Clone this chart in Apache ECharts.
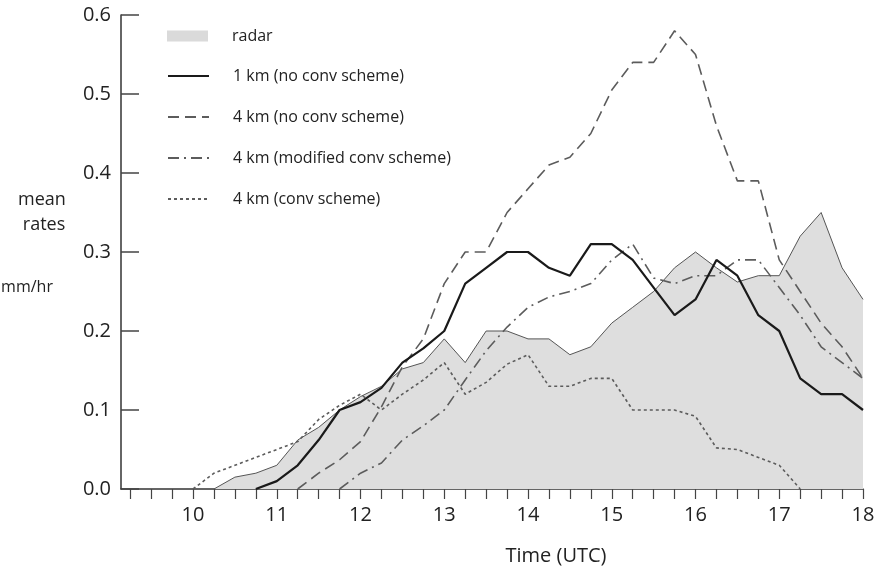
<!DOCTYPE html>
<html><head><meta charset="utf-8">
<script src="https://cdn.jsdelivr.net/npm/echarts@6/dist/echarts.min.js"></script>
<style>html,body{margin:0;padding:0;background:#fff}#c{width:878px;height:570px}</style>
</head><body><div id="c"></div>
<script>
// Time (UTC), 15-minute steps
const TIMES = [10,10.25,10.5,10.75,11,11.25,11.5,11.75,12,12.25,12.5,12.75,13,13.25,13.5,13.75,14,14.25,14.5,14.75,15,15.25,15.5,15.75,16,16.25,16.5,16.75,17,17.25,17.5,17.75,18];
// mean rates, mm/hr (null = not plotted)
const RADAR = [null,0,0.015,0.02,0.03,0.062,0.078,0.10,0.117,0.13,0.152,0.16,0.19,0.16,0.20,0.20,0.19,0.19,0.17,0.18,0.21,0.23,0.25,0.28,0.30,0.28,0.262,0.27,0.27,0.32,0.35,0.28,0.24];
const KM1_NOCONV = [null,null,null,0,0.01,0.03,0.062,0.10,0.11,0.128,0.16,0.178,0.20,0.26,0.28,0.30,0.30,0.28,0.27,0.31,0.31,0.29,0.255,0.22,0.24,0.29,0.27,0.22,0.20,0.14,0.12,0.12,0.10];
const KM4_NOCONV = [null,null,null,null,null,0,0.02,0.037,0.06,0.104,0.155,0.19,0.26,0.30,0.30,0.35,0.38,0.41,0.42,0.45,0.505,0.54,0.54,0.58,0.55,0.46,0.39,0.39,0.29,0.25,0.21,0.18,0.14];
const KM4_MODCONV = [null,null,null,null,null,null,null,0,0.02,0.033,0.062,0.08,0.10,0.138,0.175,0.205,0.23,0.243,0.25,0.26,0.29,0.31,0.267,0.26,0.27,0.27,0.29,0.29,0.255,0.22,0.18,0.16,0.14];
const KM4_CONV = [0,0.02,0.03,0.04,0.05,0.06,0.088,0.106,0.12,0.10,0.12,0.138,0.16,0.12,0.135,0.158,0.17,0.13,0.13,0.14,0.14,0.10,0.10,0.10,0.092,0.052,0.05,0.04,0.03,0,null,null,null];
// axis ticks / labels
const HOUR_LABELS = [10,11,12,13,14,15,16,17,18];
const X_TICKS = [9.25,9.5,9.75,10,10.25,10.5,10.75,11,11.25,11.5,11.75,12,12.25,12.5,12.75,13,13.25,13.5,13.75,14,14.25,14.5,14.75,15,15.25,15.5,15.75,16,16.25,16.5,16.75,17,17.25,17.5,17.75,18];
const NAMES = ['radar','1 km (no conv scheme)','4 km (no conv scheme)','4 km (modified conv scheme)','4 km (conv scheme)'];

const pairs = arr => TIMES.map((t,i)=>[t, arr[i]]);
const FONT = '"Open Sans", sans-serif';
const txt = '#222';
const legendText = {fontFamily:FONT, fontSize:16, color:txt, lineHeight:16, padding:[0,0,0,19]};

const chart = echarts.init(document.getElementById('c'), null, {renderer:'canvas'});
chart.setOption({
  animation:false,
  backgroundColor:'#fff',
  grid:{left:121, right:15, top:15, bottom:81, containLabel:false},
  xAxis:{
    type:'value', min:9.14, max:18,
    axisLine:{show:true, lineStyle:{color:'#333', width:1.5}},
    axisTick:{show:true, inside:false, length:10, customValues:X_TICKS, lineStyle:{color:'#444', width:1.2}},
    axisLabel:{show:true, customValues:HOUR_LABELS, margin:16, fontFamily:FONT, fontSize:20, color:txt, formatter:v=>String(Math.round(v))},
    splitLine:{show:false}
  },
  yAxis:{
    type:'value', min:0, max:0.6, interval:0.1,
    axisLine:{show:true, lineStyle:{color:'#333', width:1.5}},
    axisTick:{show:true, inside:true, length:18, lineStyle:{color:'#444', width:1.5}},
    axisLabel:{margin:10, fontFamily:FONT, fontSize:20, color:txt, formatter:v=>v.toFixed(1)},
    splitLine:{show:false}
  },
  legend:[
    {data:[{name:NAMES[0], icon:'rect', itemStyle:{color:'#dadada', borderWidth:0}}],
     left:167, top:28, itemWidth:41, itemHeight:11, padding:0, textStyle:legendText},
    {data:NAMES.slice(1), orient:'vertical', left:167, top:68, itemWidth:41, itemHeight:12, itemGap:25, padding:0,
     itemStyle:{opacity:0}, textStyle:legendText}
  ],
  graphic:[
    {type:'text', style:{text:'mean', x:42, y:200, fontFamily:FONT, fontSize:18, fill:txt, align:'center', verticalAlign:'middle'}},
    {type:'text', style:{text:'rates', x:44, y:225, fontFamily:FONT, fontSize:18, fill:txt, align:'center', verticalAlign:'middle'}},
    {type:'text', style:{text:'mm/hr', x:27, y:287, fontFamily:FONT, fontSize:16, fill:txt, align:'center', verticalAlign:'middle'}},
    {type:'text', style:{text:'Time (UTC)', x:556, y:556, fontFamily:FONT, fontSize:20, fill:txt, align:'center', verticalAlign:'middle'}}
  ],
  series:[
    {name:NAMES[0], type:'line', data:pairs(RADAR), symbol:'none', z:1,
     lineStyle:{color:'#555', width:1}, itemStyle:{color:'#dadada'},
     areaStyle:{color:'#dedede', opacity:1}},
    {name:NAMES[1], type:'line', data:pairs(KM1_NOCONV), symbol:'none', z:5,
     itemStyle:{color:'#1a1a1a'}, lineStyle:{color:'#1a1a1a', width:2.2}},
    {name:NAMES[2], type:'line', data:pairs(KM4_NOCONV), symbol:'none', z:4,
     itemStyle:{color:'#5c5c5c'}, lineStyle:{color:'#5c5c5c', width:1.6, type:[11,6]}},
    {name:NAMES[3], type:'line', data:pairs(KM4_MODCONV), symbol:'none', z:4,
     itemStyle:{color:'#5c5c5c'}, lineStyle:{color:'#5c5c5c', width:1.6, type:[11,5,2,5]}},
    {name:NAMES[4], type:'line', data:pairs(KM4_CONV), symbol:'none', z:4,
     itemStyle:{color:'#5c5c5c'}, lineStyle:{color:'#5c5c5c', width:1.6, type:[3,3]}}
  ]
});
</script></body></html>
